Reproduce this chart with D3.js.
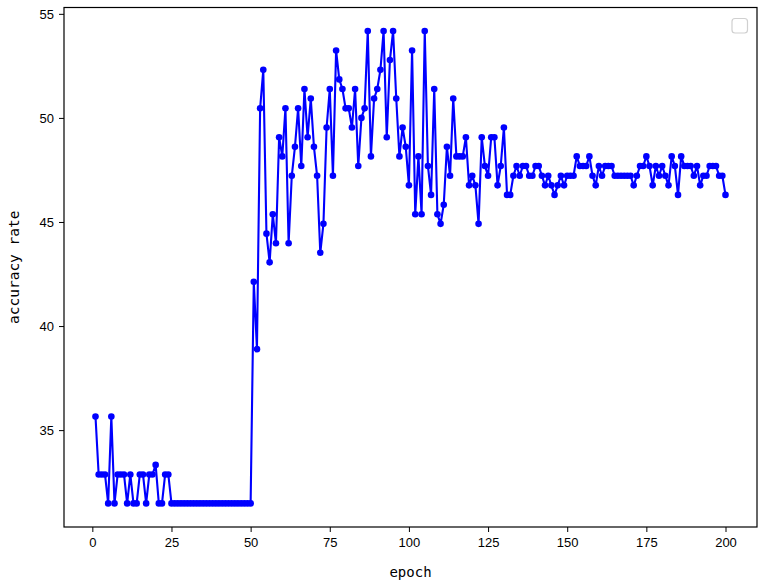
<!DOCTYPE html>
<html>
<head>
<meta charset="utf-8">
<script src="https://cdn.jsdelivr.net/npm/d3@7"></script>
<style>
  html, body { margin: 0; padding: 0; background: #fff; }
  svg { display: block; }
</style>
</head>
<body>
<svg id="chart" width="765" height="587"></svg>
<script>
// ---- data ----
const epochs = d3.range(1, 201);
const accuracyE1to50 = [
  35.65, 32.87, 32.87, 32.87, 31.48, 35.65, 31.48, 32.87, 32.87, 32.87,
  31.48, 32.87, 31.48, 31.48, 32.87, 32.87, 31.48, 32.87, 32.87, 33.33,
  31.48, 31.48, 32.87, 32.87, 31.48, 31.48, 31.48, 31.48, 31.48, 31.48,
  31.48, 31.48, 31.48, 31.48, 31.48, 31.48, 31.48, 31.48, 31.48, 31.48,
  31.48, 31.48, 31.48, 31.48, 31.48, 31.48, 31.48, 31.48, 31.48, 31.48
];
const accuracyE51to100 = [
  42.13, 38.89, 50.46, 52.31, 44.44, 43.06, 45.37, 43.98, 49.07, 48.15,
  50.46, 43.98, 47.22, 48.61, 50.46, 47.69, 51.39, 49.07, 50.93, 48.61,
  47.22, 43.52, 44.91, 49.54, 51.39, 47.22, 53.24, 51.85, 51.39, 50.46,
  50.46, 49.54, 51.39, 47.69, 50.00, 50.46, 54.17, 48.15, 50.93, 51.39,
  52.31, 54.17, 49.07, 52.78, 54.17, 50.93, 48.15, 49.54, 48.61, 46.76
];
const accuracyE101to150 = [
  53.24, 45.37, 48.15, 45.37, 54.17, 47.69, 46.30, 51.39, 45.37, 44.91,
  45.83, 48.61, 47.22, 50.93, 48.15, 48.15, 48.15, 49.07, 46.76, 47.22,
  46.76, 44.91, 49.07, 47.69, 47.22, 49.07, 49.07, 46.76, 47.69, 49.54,
  46.30, 46.30, 47.22, 47.69, 47.22, 47.69, 47.69, 47.22, 47.22, 47.69,
  47.69, 47.22, 46.76, 47.22, 46.76, 46.30, 46.76, 47.22, 46.76, 47.22
];
const accuracyE151to200 = [
  47.22, 47.22, 48.15, 47.69, 47.69, 47.69, 48.15, 47.22, 46.76, 47.69,
  47.22, 47.69, 47.69, 47.69, 47.22, 47.22, 47.22, 47.22, 47.22, 47.22,
  46.76, 47.22, 47.69, 47.69, 48.15, 47.69, 46.76, 47.69, 47.22, 47.69,
  47.22, 46.76, 48.15, 47.69, 46.30, 48.15, 47.69, 47.69, 47.69, 47.22,
  47.69, 46.76, 47.22, 47.22, 47.69, 47.69, 47.69, 47.22, 47.22, 46.30
];
const accuracy = [].concat(accuracyE1to50, accuracyE51to100, accuracyE101to150, accuracyE151to200);
const xTicks = [0, 25, 50, 75, 100, 125, 150, 175, 200];
const yTicks = [35, 40, 45, 50, 55];
const xLabel = "epoch";
const yLabel = "accuracy rate";

// ---- layout ----
const L = 64, R = 757, T = 7.5, B = 527;
const svg = d3.select("#chart");

const xMin = d3.min(epochs), xMax = d3.max(epochs);
const xPad = (xMax - xMin) * 0.05;
const yMin = d3.min(accuracy), yMax = d3.max(accuracy);
const yPad = (yMax - yMin) * 0.05;

const x = d3.scaleLinear().domain([xMin - xPad, xMax + xPad]).range([L, R]);
const y = d3.scaleLinear().domain([yMin - yPad, yMax + yPad]).range([B, T]);

const data = epochs.map((e, i) => ({ e, v: accuracy[i] }));

// line
svg.append("path")
  .datum(data)
  .attr("fill", "none")
  .attr("stroke", "#0000ff")
  .attr("stroke-width", 2.1)
  .attr("stroke-linejoin", "round")
  .attr("d", d3.line().x(d => x(d.e)).y(d => y(d.v)));

// markers
svg.append("g").selectAll("circle")
  .data(data)
  .join("circle")
  .attr("cx", d => x(d.e))
  .attr("cy", d => y(d.v))
  .attr("r", 3.3)
  .attr("fill", "#0000ff");

// axes
const fontTicks = "'Liberation Sans', Arial, sans-serif";
const xAxis = svg.append("g")
  .attr("transform", `translate(0,${B})`)
  .call(d3.axisBottom(x).tickValues(xTicks).tickSize(5).tickPadding(6).tickFormat(d3.format("d")));
const yAxis = svg.append("g")
  .attr("transform", `translate(${L},0)`)
  .call(d3.axisLeft(y).tickValues(yTicks).tickSize(5).tickPadding(5).tickFormat(d3.format("d")));
[xAxis, yAxis].forEach(g => {
  g.select(".domain").remove();
  g.selectAll("line").attr("stroke", "#000").attr("stroke-width", 1);
  g.selectAll("text").attr("fill", "#000").style("font-family", fontTicks).style("font-size", "13px");
});

// frame
svg.append("rect")
  .attr("x", L).attr("y", T)
  .attr("width", R - L).attr("height", B - T)
  .attr("fill", "none").attr("stroke", "#000").attr("stroke-width", 1.2);

// empty legend box
svg.append("rect")
  .attr("x", 732).attr("y", 18.5)
  .attr("width", 15.5).attr("height", 14.5)
  .attr("rx", 3)
  .attr("fill", "#fff")
  .attr("stroke", "#d0d0d0").attr("stroke-width", 1.2);

// axis labels
svg.append("text")
  .attr("x", (L + R) / 2).attr("y", 577)
  .attr("text-anchor", "middle")
  .style("font-family", "'DejaVu Sans Mono', monospace")
  .style("font-size", "14px")
  .text(xLabel);
svg.append("text")
  .attr("transform", `translate(19,${(T + B) / 2}) rotate(-90)`)
  .attr("text-anchor", "middle")
  .style("font-family", "'DejaVu Sans Mono', monospace")
  .style("font-size", "14.5px")
  .text(yLabel);
</script>
</body>
</html>
